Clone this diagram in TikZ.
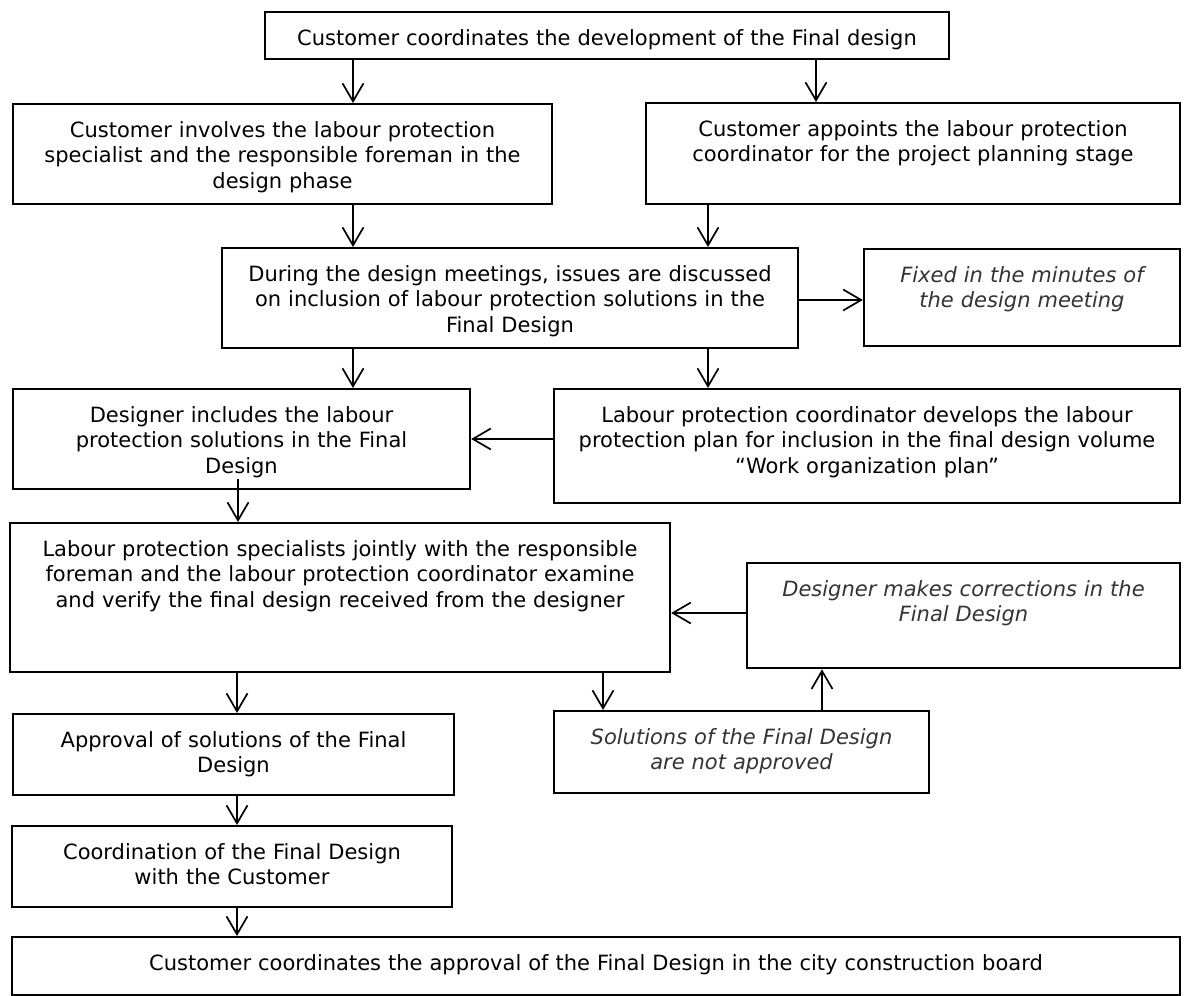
\documentclass[tikz,border=0pt]{standalone}
\usepackage{fontspec}
\setmainfont{DejaVu Sans}
\usetikzlibrary{arrows.meta,calc}
\begin{document}
\begin{tikzpicture}
[x=1pt,y=-1pt,
 box/.style 2 args={draw,line width=2.3pt,anchor=north,align=center,
   inner xsep=0pt,inner ysep=0pt,text width=#1,
   text height=33pt,text depth=#2,
   font=\fontsize{21}{25.5}\selectfont},
 note/.style={font=\fontsize{21}{25.5}\selectfont\itshape,text=black!80},
 arr/.style={-{Straight Barb[length=18pt,width=21pt]},line width=1.7pt}]
\useasboundingbox (0,0) rectangle (1184,996);

\node[box={684pt}{14pt}] (A) at (607,11)
{Customer coordinates the development of the Final design};
\node[box={539pt}{67pt}] (B) at (282.5,103)
{Customer involves the labour protection\\ specialist and the responsible foreman in the\\ design phase};
\node[box={534pt}{68pt}] (C) at (913,102)
{Customer appoints the labour protection\\ coordinator for the project planning stage};
\node[box={576pt}{67pt}] (D) at (510,247)
{During the design meetings, issues are discussed\\ on inclusion of labour protection solutions in the\\ Final Design};
\node[box={316pt}{64pt},note] (E) at (1022,248)
{Fixed in the minutes of\\ the design meeting};
\node[box={457pt}{67pt}] (F) at (241.5,388)
{Designer includes the labour\\ protection solutions in the Final\\ Design};
\node[box={626pt}{81pt}] (G) at (867,388)
{Labour protection coordinator develops the labour\\ protection plan for inclusion in the final design volume\\ “Work organization plan”};
\node[box={660pt}{116pt}] (H) at (340,522)
{Labour protection specialists jointly with the responsible\\ foreman and the labour protection coordinator examine\\ and verify the final design received from the designer};
\node[box={433pt}{72pt},note] (I) at (963.5,562)
{Designer makes corrections in the\\ Final Design};
\node[box={441pt}{48pt}] (J) at (233.5,713)
{Approval of solutions of the Final\\ Design};
\node[box={375pt}{49pt},note] (K) at (741.5,710)
{Solutions of the Final Design\\ are not approved};
\node[box={440pt}{48pt}] (L) at (232,825)
{Coordination of the Final Design\\ with the Customer};
\node[box={1168pt}{25pt}] (M) at (596,936)
{Customer coordinates the approval of the Final Design in the city construction board};

% connectors
\draw[arr] (353,0 |- A.south) -- (353,0 |- B.north);
\draw[arr] (816,0 |- A.south) -- (816,0 |- C.north);
\draw[arr] (353,0 |- B.south) -- (353,0 |- D.north);
\draw[arr] (708,0 |- C.south) -- (708,0 |- D.north);
\draw[arr] (D.east |- 0,300) -- (E.west |- 0,300);
\draw[arr] (353,0 |- D.south) -- (353,0 |- F.north);
\draw[arr] (708,0 |- D.south) -- (708,0 |- G.north);
\draw[arr] (G.west |- 0,439) -- (F.east |- 0,439);
\draw[arr] ($(238,0 |- F.south)+(0,-11)$) -- (238,0 |- H.north);
\draw[arr] (I.west |- 0,613) -- (H.east |- 0,613);
\draw[arr] (237,0 |- H.south) -- (237,0 |- J.north);
\draw[arr] (603,0 |- H.south) -- (603,0 |- K.north);
\draw[arr] (822,0 |- K.north) -- (822,0 |- I.south);
\draw[arr] (237,0 |- J.south) -- (237,0 |- L.north);
\draw[arr] (237,0 |- L.south) -- (237,0 |- M.north);
\end{tikzpicture}
\end{document}
